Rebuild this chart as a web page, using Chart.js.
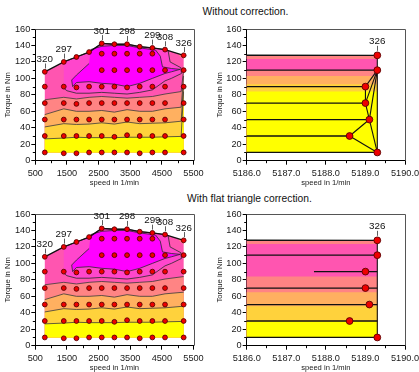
<!DOCTYPE html>
<html><head><meta charset="utf-8">
<script src="https://cdn.jsdelivr.net/npm/chart.js@4.4.0/dist/chart.umd.min.js"></script>
<style>
html,body{margin:0;padding:0;background:#fff;width:419px;height:372px;overflow:hidden;position:relative;font-family:"Liberation Sans",Arial,sans-serif;}
canvas{position:absolute;}
.ttl{position:absolute;font-size:10.3px;color:#111;white-space:nowrap;transform:translateX(-50%);line-height:12px;}
</style></head><body>
<div class="ttl" style="left:245.5px;top:6px">Without correction.</div>
<div class="ttl" style="left:249.5px;top:193px">With flat triangle correction.</div>
<canvas id="c0" width="209" height="190" style="left:0;top:0"></canvas>
<canvas id="c1" width="214" height="190" style="left:205px;top:0"></canvas>
<canvas id="c2" width="209" height="190" style="left:0;top:185px"></canvas>
<canvas id="c3" width="214" height="190" style="left:205px;top:185px"></canvas>
<script>
// ---------- data ----------
const speeds = [800, 1400, 1800, 2200, 2600, 3000, 3400, 3800, 4200, 4600];
const torqueCols = [
  [108, 90, 70, 50, 30, 10],
  [120, 90, 70, 50, 30, 9],
  [126, 89, 69, 50, 30, 9],
  [132, 90, 70, 50, 30, 10],
  [142.5, 130, 110, 90, 70, 50, 30, 10],
  [141.5, 130, 110, 90, 70, 50, 29, 10],
  [141.5, 130, 110, 89, 70, 50, 31, 10],
  [138.5, 130, 110, 90, 70, 50, 30, 9],
  [137, 130, 110, 90, 70, 50, 30, 10],
  [135, 110, 90, 70, 50, 30, 10]
];
const edgeSpeed = [5189.3, 5189.3, 5189.0, 5189.0, 5189.1, 5188.6, 5189.3];
const edgeTorque = [128, 110, 90, 70, 50, 30, 10];
const topLabels = ['320', '297', '', '', '301', '', '298', '', '299', '308', '326'];

// contour levels (torque at each speed), corrected map
const contourSpeed = [800, 1400, 1800, 2200, 2600, 3000, 3400, 3800, 4200, 4600, 5189.3];
const lvl1 = [26.5, 27.5, 28.5, 28, 28, 28, 28.5, 28.5, 28.5, 29, 29.5];
const lvl2 = [41, 45, 44, 44.5, 46, 44.5, 47, 45, 45.5, 46, 48];
const lvl3 = [56, 63, 60, 60, 61, 59, 62, 60, 60, 63, 65];
const lvl4 = [74, 77, 75, 77, 78, 77, 76, 77, 78, 81, 84];
// uncorrected map: contour tails bent by the flat triangles
const tailSpeed = [5110, 5186, 5189.3];
const lvl1Tail = [29.5, 84, 84];
const lvl2Tail = [48, 93, 93];
const lvl3Tail = [65, 103, 103];
const lvl4Tail = [84, 110, 110];

// inner zones (polygons of speed / torque)
const midSpeed  = [1400, 1800, 2200, 2600, 3000, 3400, 3800, 4200, 4600, 4700, 4760, 5100, 5120, 4800, 4600, 4200, 3800, 3400, 3000, 2600, 2200, 1800, 1500, 1400];
const midTorque = [120, 126, 132, 142.5, 141.5, 141.5, 138.5, 137, 135, 133, 120, 113, 106, 100, 97, 86, 83, 81, 82, 83, 82, 82, 85, 88];
const coreSpeed  = [2250, 2600, 3000, 3400, 3800, 4300, 4450, 4520, 4800, 5080, 4800, 4600, 4200, 3800, 3400, 3000, 2600, 2200, 1800, 1680, 1650, 1800, 2200];
const coreTorque = [135, 139, 140, 140, 137, 134.5, 127, 114, 112, 111, 108, 106, 100, 94, 90, 93, 94, 96, 95, 90, 98, 104, 118];
const capSpeed  = [4980, 5189.3, 5189.3, 5120];
const capTorque = [130.5, 128, 123.5, 125];

const colYellow = '#ffff00', colGold = '#ffd23c', colOrange = '#ffb060', colSalmon = '#ff8484',
      colPink = '#ff55b0', colMid = '#ff46cc', colCore = '#ff00ff';

// ---------- helpers ----------
const P = (xs, ys) => xs.map((x, i) => ({x: x, y: ys[i]}));
const gridPoints = [];
speeds.forEach((s, i) => torqueCols[i].forEach(t => gridPoints.push({x: s, y: t})));
edgeSpeed.forEach((s, i) => gridPoints.push({x: s, y: edgeTorque[i]}));
const boundary = speeds.map((s, i) => ({x: s, y: torqueCols[i][0]})).concat([{x: edgeSpeed[0], y: edgeTorque[0]}]);
const x0 = speeds[0], xE = edgeSpeed[0], yB = edgeTorque[edgeTorque.length - 1];
const bottomClose = [{x: xE, y: yB}, {x: x0, y: yB}];
const rowLineStartCorrected = [4600, 4600, 5187.7, 4600, 4600, 4600, 4600];

function level(vals, tail, corrected) {
  if (corrected) return P(contourSpeed, vals);
  return P(contourSpeed.slice(0, 10), vals.slice(0, 10)).concat(P(tailSpeed, tail));
}
const levels = c => [level(lvl1, lvl1Tail, c), level(lvl2, lvl2Tail, c), level(lvl3, lvl3Tail, c), level(lvl4, lvl4Tail, c)];

function poly(data, color, bw) {
  return {data: data, showLine: true, fill: 'shape', backgroundColor: color, borderColor: bw ? '#2a2a2a' : 'transparent',
          borderWidth: bw || 0, pointRadius: 0, tension: 0};
}
function lineDs(data, color, w) {
  return {data: data, showLine: true, fill: false, borderColor: color, borderWidth: w, pointRadius: 0, tension: 0};
}

function datasets(corrected, zoomView) {
  const L = levels(corrected);
  const ds = [];
  ds.push({data: gridPoints, showLine: false, pointRadius: zoomView ? 3.4 : 2.4, pointBorderWidth: 0.9,
           pointBackgroundColor: '#ee0000', pointBorderColor: '#5a0000'});
  ds.push(lineDs(boundary, '#111', zoomView ? 1.4 : 1.3));
  if (zoomView) {
    // triangulation edges at the right border
    for (let k = 1; k < edgeTorque.length; k++) {
      const start = {x: corrected ? rowLineStartCorrected[k] : speeds[9], y: edgeTorque[k]};
      const end = corrected ? {x: xE, y: edgeTorque[k]} : {x: edgeSpeed[k], y: edgeTorque[k]};
      ds.push(lineDs([start, end], '#111', 1.3));
    }
    ds.push(lineDs([{x: xE, y: edgeTorque[0]}, {x: xE, y: yB}], '#111', 1.1));
    if (!corrected) {
      const pairs = [[1, 2], [2, 3], [3, 4], [4, 5], [5, 6], [1, 3], [1, 4], [4, 6]];
      pairs.forEach(p => ds.push(lineDs([{x: edgeSpeed[p[0]], y: edgeTorque[p[0]]}, {x: edgeSpeed[p[1]], y: edgeTorque[p[1]]}], '#111', 1.1)));
    }
  } else {
    L.forEach(l => ds.push(lineDs(l, '#3a3a3a', 0.8)));
    ds.push(poly(P(coreSpeed, coreTorque), colCore, 0.8));
    ds.push(poly(P(midSpeed, midTorque), colMid, 0.8));
  }
  ds.push(poly(P(capSpeed, capTorque), colSalmon));
  ds.push(poly(L[0].concat(bottomClose), colYellow));
  ds.push(poly(L[1].concat(bottomClose), colGold));
  ds.push(poly(L[2].concat(bottomClose), colOrange));
  ds.push(poly(L[3].concat(bottomClose), colSalmon));
  ds.push(poly(boundary.concat(bottomClose), colPink));
  return ds;
}

// ---------- plugins ----------
const framePlugin = {
  id: 'frame',
  afterDraw(chart) {
    const a = chart.chartArea, c = chart.ctx;
    c.save(); c.strokeStyle = '#555'; c.lineWidth = 1;
    c.beginPath();
    c.moveTo(a.left, Math.round(a.top) + 0.5); c.lineTo(Math.round(a.right) + 0.5, Math.round(a.top) + 0.5);
    c.lineTo(Math.round(a.right) + 0.5, a.bottom);
    c.stroke(); c.restore();
  }
};
const minorPlugin = {
  id: 'minor',
  afterDraw(chart, args, o) {
    const c = chart.ctx, xs = chart.scales.x, ys = chart.scales.y, a = chart.chartArea;
    c.save(); c.strokeStyle = '#000'; c.lineWidth = 1; c.beginPath();
    for (let v = xs.min + o.x; v < xs.max; v += 2 * o.x) {
      const px = Math.round(xs.getPixelForValue(v)) + 0.5;
      c.moveTo(px, a.bottom); c.lineTo(px, a.bottom + 2.5);
    }
    for (let v = ys.min + o.y; v < ys.max; v += 2 * o.y) {
      const py = Math.round(ys.getPixelForValue(v)) + 0.5;
      c.moveTo(a.left, py); c.lineTo(a.left - 2.5, py);
    }
    c.stroke(); c.restore();
  }
};
const labelPlugin = {
  id: 'ptlabels',
  afterDraw(chart, args, o) {
    const c = chart.ctx, xs = chart.scales.x, ys = chart.scales.y;
    c.save();
    c.font = o.size + 'px "Liberation Sans", Arial, sans-serif';
    c.fillStyle = '#111'; c.strokeStyle = '#333'; c.lineWidth = 0.8;
    c.textAlign = 'center'; c.textBaseline = 'alphabetic';
    o.items.forEach(it => {
      const px = xs.getPixelForValue(it.x), py = ys.getPixelForValue(it.y);
      if (px < chart.chartArea.left - 1) return;
      c.beginPath(); c.moveTo(Math.round(px) + 0.5, py - o.r); c.lineTo(Math.round(px) + 0.5, py - o.r - 5); c.stroke();
      c.fillText(it.t, px, py - o.r - 6.5);
    });
    c.restore();
  }
};

// ---------- charts ----------
const FONT = '"Liberation Sans", Arial, sans-serif';
function build(id, corrected, zoomView) {
  const labels = [];
  boundary.forEach((b, i) => { if (topLabels[i]) labels.push({x: b.x, y: b.y, t: topLabels[i]}); });
  const items = zoomView ? labels.filter(l => l.x > 5000) : labels;
  new Chart(document.getElementById(id), {
    type: 'scatter',
    data: {datasets: datasets(corrected, zoomView)},
    plugins: [framePlugin, minorPlugin, labelPlugin],
    options: {
      responsive: false, animation: false, devicePixelRatio: 1, events: [],
      layout: {padding: zoomView ? {left: 6.4, right: 14, top: 29, bottom: 2.3} : {left: 0, right: 15.5, top: 29, bottom: 2.3}},
      plugins: {legend: {display: false}, tooltip: {enabled: false},
        minor: {x: zoomView ? 0.5 : 500, y: 10},
        ptlabels: {items: items, size: 9.8, r: zoomView ? 4.5 : 3.3}},
      scales: {
        x: {type: 'linear', min: zoomView ? 5186 : 500, max: zoomView ? 5190 : 5500,
            ticks: {stepSize: zoomView ? 1 : 1000, autoSkip: false, maxRotation: 0, padding: 3, color: '#1a1a1a',
                    font: {family: FONT, size: 9.2}, callback: v => zoomView ? v.toFixed(1) : String(v)},
            grid: {drawOnChartArea: false, tickLength: 4, color: '#000'},
            border: {color: '#000', width: 1},
            title: {display: true, text: 'speed in 1/min', color: '#1a1a1a', font: {family: FONT, size: 7.6}, padding: {top: 0, bottom: 0.5}},
            afterFit: s => { s.height = 27; s.paddingLeft = 0; s.paddingRight = 0; }},
        y: {type: 'linear', min: 0, max: 160,
            ticks: {stepSize: 20, autoSkip: false, padding: 1, color: '#1a1a1a', font: {family: FONT, size: 9.2}},
            grid: {drawOnChartArea: false, tickLength: 4, color: '#000'},
            border: {color: '#000', width: 1},
            title: {display: true, text: 'Torque in Nm', color: '#1a1a1a', font: {family: FONT, size: 7.6}, padding: {top: 3.5, bottom: 0}},
            afterFit: s => { s.width = 35.3; s.paddingTop = 0; s.paddingBottom = 0; }}
      }
    }
  });
}
build('c0', false, false);
build('c1', false, true);
build('c2', true, false);
build('c3', true, true);
</script>
</body></html>
